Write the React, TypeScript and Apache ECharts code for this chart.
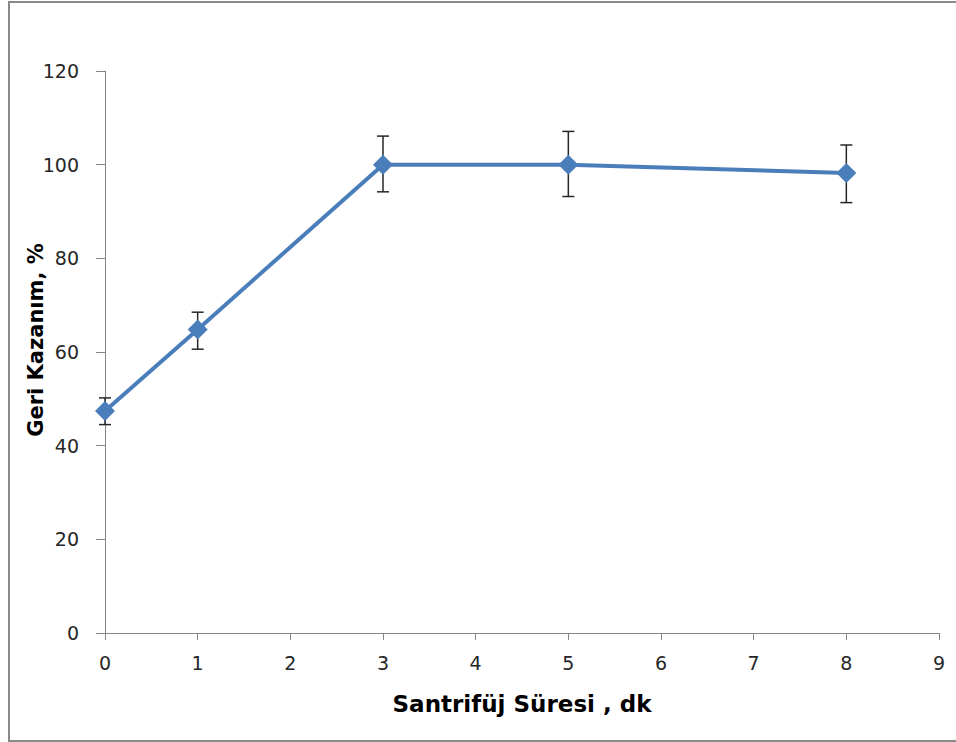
import React, { useEffect, useRef } from "react";
import * as echarts from "echarts";

const xValues = [0, 1, 3, 5, 8];
const recovery = [47.4, 64.8, 100, 100, 98.2];
const errLow = [44.5, 60.6, 94.2, 93.2, 91.9];
const errHigh = [50.2, 68.5, 106.1, 107.1, 104.2];

const xTitle = "Santrifüj Süresi , dk";
const yTitle = "Geri Kazanım, %";

export default function App() {
  const ref = useRef<HTMLDivElement>(null);
  useEffect(() => {
    if (!ref.current) return;
    const chart = echarts.init(ref.current, undefined, { renderer: "svg" });
    const lineData = xValues.map((x, i) => [x, recovery[i]]);
    const errData = xValues.map((x, i) => [x, errLow[i], errHigh[i]]);
    const font = "DejaVu Sans";
    chart.setOption({
      animation: false,
      backgroundColor: "#ffffff",
      graphic: [
        {
          type: "rect",
          shape: { x: 9, y: 2, width: 960, height: 739 },
          style: { fill: "none", stroke: "#8a8a8a", lineWidth: 2 },
          silent: true,
        },
      ],
      grid: { left: 105, right: 17, top: 71, bottom: 109 },
      xAxis: {
        type: "value",
        min: 0,
        max: 9,
        interval: 1,
        name: xTitle,
        nameLocation: "middle",
        nameGap: 59,
        nameMoveOverlap: false,
        nameTextStyle: { fontFamily: "DejaVu Sans", fontWeight: "bold", fontSize: 23, color: "#000" },
        axisLine: { show: true, onZero: false, lineStyle: { color: "#868686", width: 1 } },
        axisTick: { show: true, inside: false, length: 7, lineStyle: { color: "#868686" } },
        splitLine: { show: false },
        axisLabel: { margin: 20, fontFamily: font, fontSize: 19, color: "#262626" },
      },
      yAxis: {
        type: "value",
        min: 0,
        max: 120,
        interval: 20,
        name: yTitle,
        nameLocation: "middle",
        nameGap: 59,
        nameMoveOverlap: false,
        nameTextStyle: {
          fontFamily: "DejaVu Sans",
          fontWeight: "bold",
          fontSize: 21,
          color: "#000",
          padding: [0, 0, 0, 24],
        },
        axisLine: { show: true, lineStyle: { color: "#868686", width: 1 } },
        axisTick: { show: true, inside: false, length: 9, lineStyle: { color: "#868686" } },
        splitLine: { show: false },
        axisLabel: { margin: 26, fontFamily: font, fontSize: 19, color: "#262626" },
      },
      series: [
        {
          type: "line",
          data: lineData,
          symbol: "diamond",
          symbolSize: 20,
          lineStyle: { color: "#4a7ebb", width: 4 },
          itemStyle: { color: "#4a7ebb" },
          z: 3,
        },
        {
          type: "custom",
          data: errData,
          z: 2,
          renderItem: (params: any, api: any) => {
            const x = api.value(0);
            const lo = api.coord([x, api.value(1)]);
            const hi = api.coord([x, api.value(2)]);
            const hw = 6;
            const style = { stroke: "#262626", lineWidth: 1.5 };
            return {
              type: "group",
              children: [
                { type: "line", shape: { x1: lo[0], y1: lo[1], x2: hi[0], y2: hi[1] }, style },
                { type: "line", shape: { x1: lo[0] - hw, y1: lo[1], x2: lo[0] + hw, y2: lo[1] }, style },
                { type: "line", shape: { x1: hi[0] - hw, y1: hi[1], x2: hi[0] + hw, y2: hi[1] }, style },
              ],
            };
          },
        },
      ],
    });
    return () => chart.dispose();
  }, []);
  return (
    <div
      ref={ref}
      style={{ position: "fixed", left: 0, top: 0, width: 956, height: 742 }}
    />
  );
}
